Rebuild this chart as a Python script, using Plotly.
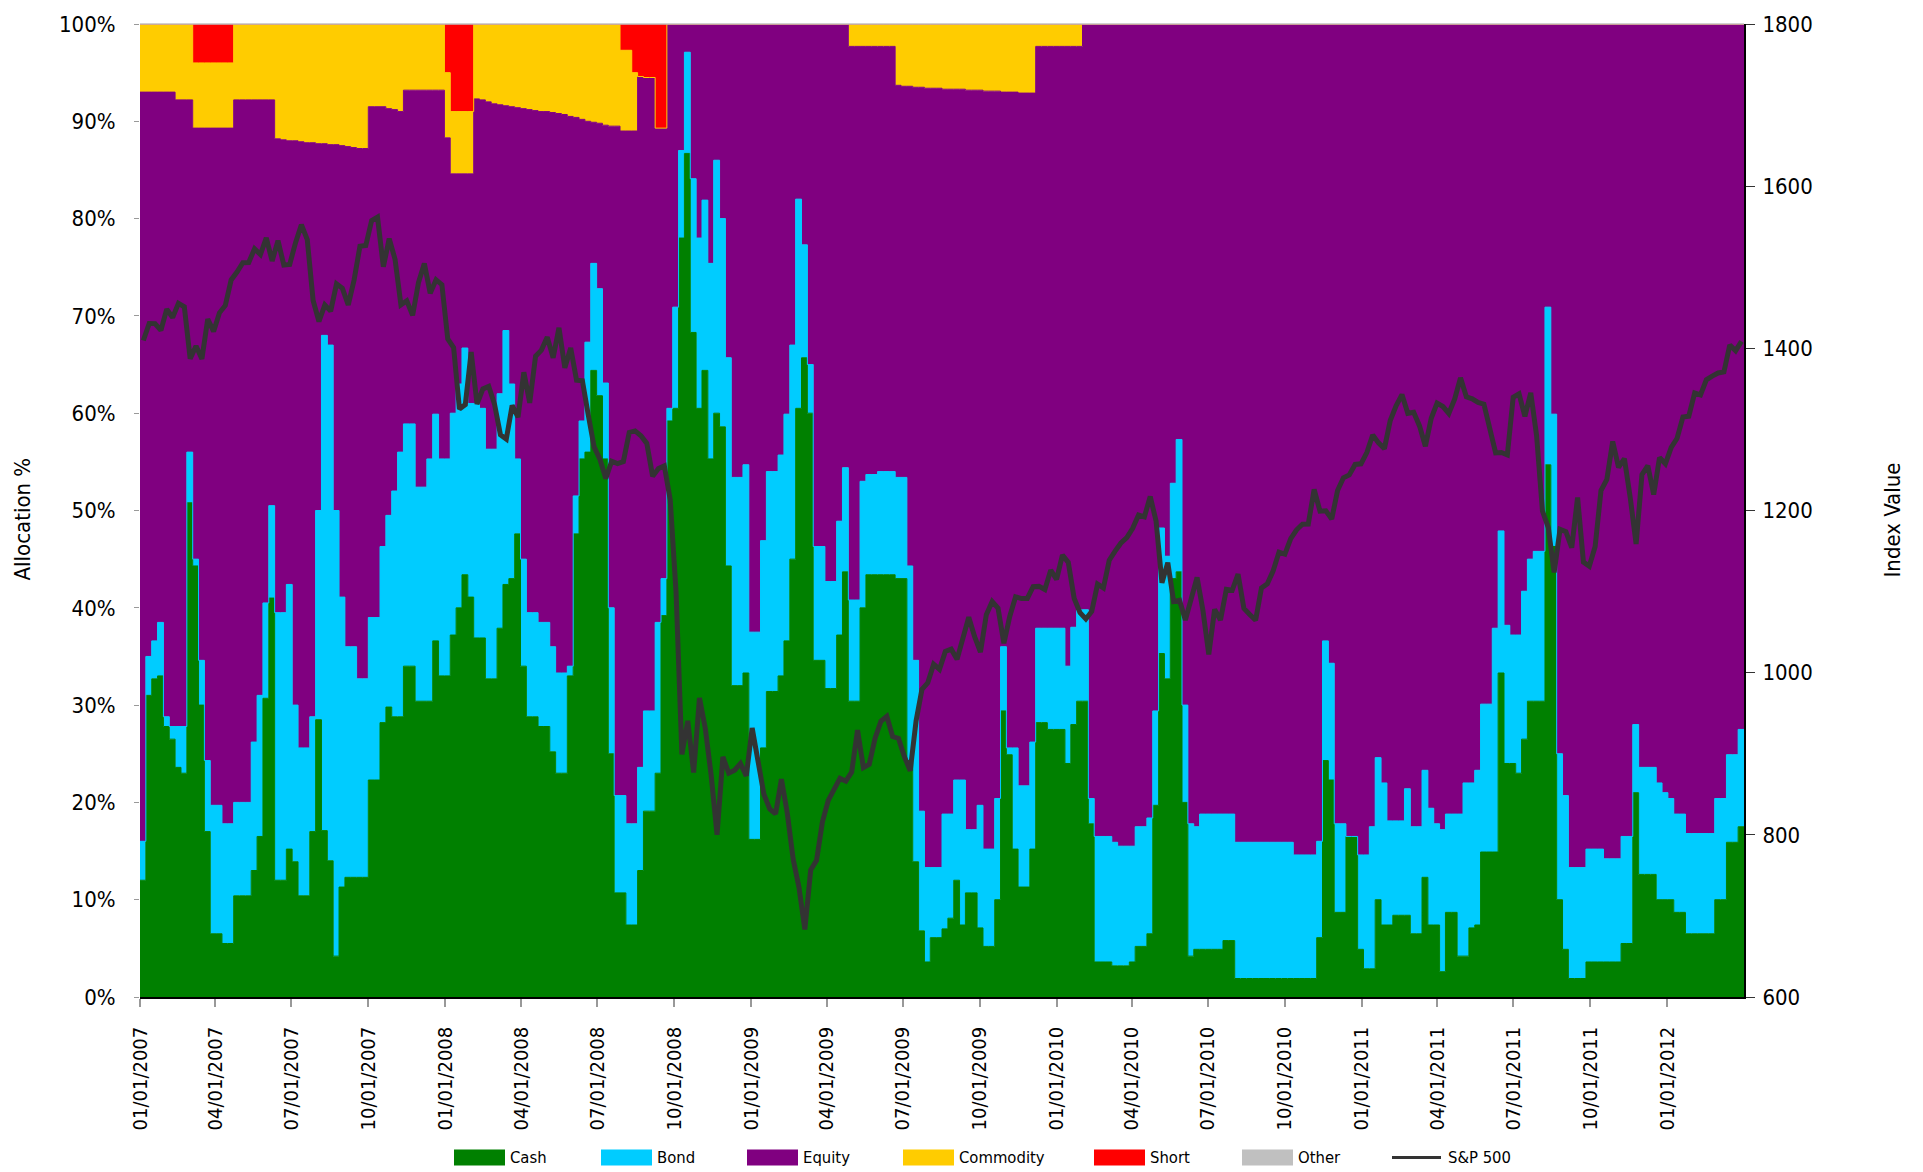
import numpy as np
import pandas as pd
import plotly.graph_objects as go

# ---------------- data (weekly allocation %) ----------------
cash = [
    12, 31, 32.7, 33, 27.8, 26.5, 23.6, 23, 50.8, 44.3,
    30, 17, 6.5, 6.5, 5.5, 5.5, 10.4, 10.4, 10.4, 13,
    16.5, 30.7, 41, 12, 12, 15.2, 13.9, 10.4, 10.4, 17,
    28.5, 17.1, 14, 4.2, 11.3, 12.3, 12.3, 12.3, 12.3, 22.3,
    22.3, 28.2, 29.8, 28.8, 28.8, 34, 34, 30.4, 30.4, 30.4,
    36.6, 33, 33, 37.2, 40, 43.4, 41.1, 36.9, 36.9, 32.7,
    32.7, 37.9, 42.4, 43, 47.6, 34, 28.8, 28.8, 27.8, 27.8,
    25.2, 23, 23, 33, 47.6, 55.3, 56, 64.4, 61.8, 55.3,
    25, 10.7, 10.7, 7.4, 7.4, 13, 19.1, 19.1, 23, 39.2,
    59.2, 60.5, 78, 86.7, 68.3, 60.5, 64.4, 55.3, 60, 58.6,
    44.3, 32, 32, 33.3, 16.2, 16.2, 25.6, 31.4, 31.4, 33,
    36.6, 45, 60.5, 65.7, 60, 34.6, 34.6, 31.7, 31.7, 37.2,
    43.7, 30.4, 30.4, 40, 43.4, 43.4, 43.4, 43.4, 43.4, 43,
    43, 24.3, 13.9, 6.8, 3.6, 6.1, 6.1, 7, 8.1, 12,
    7.4, 10.7, 10.7, 7.1, 5.2, 5.2, 10, 29.4, 24.9, 15.2,
    11.3, 11.3, 15.2, 28.2, 28.2, 27.5, 27.5, 27.5, 24, 28,
    30.4, 30.4, 17.8, 3.6, 3.6, 3.6, 3.2, 3.2, 3.2, 3.6,
    5.2, 5.2, 6.5, 19.7, 35.3, 32.7, 43, 43.7, 20, 4.2,
    4.9, 4.9, 4.9, 4.9, 4.9, 5.8, 5.8, 1.9, 1.9, 1.9,
    1.9, 1.9, 1.9, 1.9, 1.9, 1.9, 1.9, 1.9, 1.9, 1.9,
    1.9, 6.1, 24.3, 22.3, 8.7, 8.7, 16.5, 16.5, 4.9, 2.9,
    2.9, 10, 7.4, 7.4, 8.4, 8.4, 8.4, 6.5, 6.5, 12.3,
    7.4, 7.4, 2.6, 8.7, 8.7, 4.2, 4.2, 7.1, 7.4, 14.9,
    14.9, 14.9, 33.3, 24, 24, 23, 26.5, 30.4, 30.4, 30.4,
    54.7, 46.3, 10, 4.9, 1.9, 1.9, 1.9, 3.6, 3.6, 3.6,
    3.6, 3.6, 3.6, 5.5, 5.5, 21, 12.6, 12.6, 12.6, 10,
    10, 10, 8.7, 8.7, 6.5, 6.5, 6.5, 6.5, 6.5, 10,
    10, 15.9, 15.9, 17.5, 17.5,
]

bond = [
    4, 4, 3.9, 5.5, 1, 1.3, 4.2, 4.8, 5.2, 0.7,
    4.6, 7.3, 13.2, 13.2, 12.3, 12.3, 9.6, 9.6, 9.6, 13.2,
    14.5, 9.8, 9.5, 27.5, 27.5, 27.2, 16.1, 15.2, 15.2, 11.8,
    21.5, 50.9, 53, 45.8, 29.8, 23.7, 23.7, 20.4, 20.4, 16.7,
    16.7, 18.1, 19.7, 23.2, 27.2, 24.9, 24.9, 22, 22, 24.9,
    23.3, 22.3, 22.3, 22.8, 23, 23.3, 19.9, 24.1, 23.6, 23.6,
    23.6, 24.1, 26.1, 20, 7.7, 11, 10.7, 10.7, 10.7, 10.7,
    10.8, 10.3, 10.3, 1, 3.9, 3.9, 11.3, 11, 11, 7.8,
    15, 10, 10, 10.4, 10.4, 10.6, 10.3, 10.3, 15.5, 3.8,
    1.3, 10.4, 9, 10.4, 15.8, 17.5, 17.5, 20.1, 26, 21.4,
    21.4, 21.4, 21.4, 21.4, 21.3, 21.3, 21.3, 22.6, 22.6, 22.7,
    23.3, 22, 21.5, 11.6, 5, 11.7, 11.7, 11, 11, 11.7,
    10.7, 10.4, 10.4, 13, 10.3, 10.3, 10.6, 10.6, 10.6, 10.4,
    10.4, 20, 20.7, 12.3, 9.7, 7.2, 7.2, 11.8, 10.7, 10.3,
    14.9, 6.5, 6.5, 12.6, 10, 10, 10.4, 6.6, 0.7, 10.4,
    10.4, 10.4, 11, 9.7, 9.7, 10.4, 10.4, 10.4, 10, 10,
    9.4, 9.4, 2.6, 12.9, 12.9, 12.9, 12.7, 12.3, 12.3, 11.9,
    12.3, 12.3, 11.9, 9.7, 12.9, 12.6, 9.8, 13.6, 10, 13.6,
    12.6, 13.9, 13.9, 13.9, 13.9, 13, 13, 14, 14, 14,
    14, 14, 14, 14, 14, 14, 14, 12.7, 12.7, 12.7,
    12.7, 9.9, 12.3, 12, 9.1, 9.1, 0, 0, 9.7, 11.7,
    14.6, 14.6, 14.6, 10.7, 9.7, 9.7, 13, 11, 11, 11,
    12, 10.4, 14.6, 10.1, 10.1, 14.6, 17.8, 14.9, 15.9, 15.2,
    15.2, 23, 14.6, 14.2, 13.2, 14.2, 15.2, 14.6, 15.4, 15.4,
    16.2, 13.6, 15, 15.8, 11.4, 11.4, 11.4, 11.6, 11.6, 11.6,
    10.6, 10.6, 10.6, 11, 11, 7, 11, 11, 11, 12,
    11, 10.4, 10.1, 10.1, 10.3, 10.3, 10.3, 10.3, 10.3, 10.4,
    10.4, 9, 9, 10, 10,
]

equity = [
    77, 58, 56.4, 54.5, 64.2, 65.2, 64.4, 64.4, 36.2, 44.3,
    54.7, 65, 69.6, 69.6, 71.5, 71.5, 72.2, 72.2, 72.2, 66,
    61.2, 51.7, 41.7, 48.7, 48.6, 45.6, 58, 62.3, 62.2, 59,
    37.7, 19.7, 20.6, 37.6, 46.4, 51.4, 51.3, 54.5, 54.5, 52.5,
    52.5, 45.2, 41.8, 39.2, 35, 34.3, 34.3, 40.8, 40.8, 37.9,
    33.3, 37.9, 33, 24.6, 21.6, 17.9, 23.6, 31.3, 31.7, 35.7,
    35.5, 29.7, 23.1, 28.5, 36.1, 46.3, 51.7, 51.6, 52.5, 52.5,
    54.9, 57.5, 57.4, 56.5, 38.9, 31, 22.7, 14.5, 17, 26.5,
    49.5, 68.8, 68.3, 71.2, 71.2, 71, 65.1, 65.1, 50.8, 46.3,
    39.5, 29.1, 13, 2.9, 15.9, 22, 18.1, 24.6, 14, 20,
    34.3, 46.6, 46.6, 45.3, 62.5, 62.5, 53.1, 46, 46, 44.3,
    40.1, 33, 18, 22.7, 35, 53.7, 53.7, 57.3, 57.3, 51.1,
    45.6, 56.9, 56.9, 44.7, 44, 44, 43.7, 43.7, 43.7, 40.3,
    40.2, 49.3, 58.9, 74.4, 80.1, 80.1, 80.1, 74.5, 74.5, 71,
    71, 76, 76, 73.5, 77.9, 77.9, 72.7, 57, 67.4, 67.4,
    71.2, 71.2, 66.7, 59.8, 59.8, 59.8, 59.8, 59.8, 63.7, 59.7,
    57.9, 60.2, 79.6, 83.5, 83.5, 83.5, 84.1, 84.5, 84.5, 84.5,
    82.5, 82.5, 81.6, 70.6, 51.8, 54.7, 47.2, 42.7, 70, 82.2,
    82.5, 81.2, 81.2, 81.2, 81.2, 81.2, 81.2, 84.1, 84.1, 84.1,
    84.1, 84.1, 84.1, 84.1, 84.1, 84.1, 84.1, 85.4, 85.4, 85.4,
    85.4, 84, 63.4, 65.7, 82.2, 82.2, 83.5, 83.5, 85.4, 85.4,
    82.5, 75.4, 78, 81.9, 81.9, 81.9, 78.6, 82.5, 82.5, 76.7,
    80.6, 82.2, 82.8, 81.2, 81.2, 81.2, 78, 78, 76.7, 69.9,
    69.9, 62.1, 52.1, 61.8, 62.8, 62.8, 58.3, 55, 54.2, 54.2,
    29.1, 40.1, 75, 79.3, 86.7, 86.7, 86.7, 84.8, 84.8, 84.8,
    85.8, 85.8, 85.8, 83.5, 83.5, 72, 76.4, 76.4, 76.4, 78,
    79, 79.6, 81.2, 81.2, 83.2, 83.2, 83.2, 83.2, 83.2, 79.6,
    79.6, 75.1, 75.1, 72.5, 72.5,
]

commodity = (
    [7, 7, 7, 7, 7, 7, 7.8, 7.8, 7.8, 6.7,
     6.7, 6.7, 6.7, 6.7, 6.7, 6.7, 7.8, 7.8, 7.8, 7.8,
     7.8, 7.8, 7.8, 11.8, 11.9, 12, 12, 12.1, 12.2, 12.2,
     12.3, 12.3, 12.4, 12.4, 12.5, 12.6, 12.7, 12.8, 12.8, 8.5,
     8.5, 8.5, 8.7, 8.8, 9, 6.8, 6.8, 6.8, 6.8, 6.8,
     6.8, 6.8, 6.7, 6.4, 6.4, 6.4, 6.4, 7.7, 7.8, 8,
     8.2, 8.3, 8.4, 8.5, 8.6, 8.7, 8.8, 8.9, 9, 9,
     9.1, 9.2, 9.3, 9.5, 9.6, 9.8, 10, 10.1, 10.2, 10.4,
     10.5, 10.5, 8.3, 8.3, 6, 0, 0, 0, 0, 0]
    + [0] * 31
    + [2.3] * 8
    + [6.3, 6.4, 6.4, 6.5, 6.5, 6.6, 6.6, 6.6, 6.7, 6.7,
       6.7, 6.7, 6.8, 6.8, 6.8, 6.9, 6.9, 6.9, 7, 7,
       7, 7.1, 7.1, 7.1]
    + [2.3] * 8
    + [0] * 114
)

short = (
    [0] * 9 + [4] * 7 + [0] * 36 + [5] + [9] * 4 + [0] * 25
    + [2.7, 2.7, 5, 5.4, 5.5, 5.5, 10.7, 10.7]
    + [0] * 185
)

other = [0] * 275

# S&P 500 index, weekly (Fridays)
sp500 = [
    # 2007
    1409.7, 1430.7, 1430.5, 1422.2, 1448.4, 1438.1, 1455.5, 1451.2, 1387.2, 1402.8,
    1387.0, 1436.1, 1420.9, 1443.8, 1452.9, 1484.4, 1494.1, 1505.6, 1505.9, 1522.8,
    1515.7, 1536.3, 1507.7, 1532.9, 1502.6, 1503.4, 1530.4, 1552.5, 1534.1, 1459.0,
    1433.1, 1453.6, 1445.9, 1479.4, 1474.0, 1453.6, 1484.3, 1525.8, 1526.8, 1557.6,
    1561.8, 1500.6, 1535.3, 1509.7, 1453.7, 1458.7, 1440.7, 1481.1, 1504.7, 1468.0,
    1484.5, 1478.5,
    # 2008
    1411.6, 1401.0, 1325.2, 1330.6, 1395.4, 1331.3, 1350.0, 1353.1, 1330.6, 1293.4,
    1288.1, 1329.5, 1315.2, 1370.4, 1332.8, 1390.3, 1397.8, 1413.9, 1388.3, 1425.4,
    1375.9, 1400.4, 1360.7, 1360.0, 1317.9, 1278.4, 1262.9, 1239.5, 1260.7, 1257.8,
    1260.3, 1296.3, 1298.2, 1292.2, 1282.8, 1242.3, 1251.7, 1255.1, 1213.3, 1099.2,
    899.2, 940.6, 876.8, 968.8, 931.0, 873.3, 800.0, 896.2, 876.1, 879.7,
    887.9, 872.8,
    # 2009
    931.8, 890.4, 850.1, 832.0, 825.9, 868.6, 826.8, 770.1, 735.1, 683.4,
    756.6, 768.5, 815.9, 842.5, 856.6, 869.6, 866.2, 877.5, 929.2, 882.9,
    887.0, 919.1, 940.1, 946.2, 921.2, 918.9, 896.4, 879.1, 940.4, 979.3,
    987.5, 1010.5, 1004.1, 1026.1, 1028.9, 1016.4, 1042.7, 1068.3, 1044.4, 1025.2,
    1071.5, 1087.7, 1079.6, 1036.2, 1069.3, 1093.5, 1091.4, 1091.5, 1106.0, 1106.4,
    1102.5, 1126.5, 1115.1,
    # 2010
    1145.0, 1136.0, 1091.8, 1073.9, 1066.2, 1075.5, 1109.2, 1104.5, 1138.7, 1150.0,
    1159.9, 1166.6, 1178.1, 1194.4, 1192.1, 1217.3, 1186.7, 1110.9, 1135.7, 1087.7,
    1089.4, 1064.9, 1091.6, 1117.5, 1076.8, 1022.6, 1078.0, 1064.9, 1102.7, 1101.6,
    1121.6, 1079.3, 1071.7, 1064.6, 1104.5, 1109.6, 1125.6, 1148.7, 1146.2, 1165.2,
    1176.2, 1183.1, 1183.3, 1225.9, 1199.2, 1199.7, 1189.4, 1224.7, 1240.4, 1243.9,
    1256.8, 1257.6,
    # 2011
    1271.5, 1293.2, 1283.4, 1276.3, 1310.9, 1329.2, 1343.0, 1319.9, 1321.2, 1304.3,
    1279.2, 1313.8, 1332.4, 1328.2, 1319.7, 1337.4, 1363.6, 1340.2, 1337.8, 1333.3,
    1331.1, 1300.2, 1271.0, 1271.5, 1268.5, 1339.7, 1343.8, 1316.1, 1345.0, 1292.3,
    1199.4, 1178.8, 1123.5, 1176.8, 1174.0, 1154.2, 1216.0, 1136.4, 1131.4, 1155.5,
    1224.6, 1238.3, 1285.1, 1253.2, 1263.9, 1215.7, 1158.7, 1244.3, 1255.2, 1219.7,
    1265.3, 1257.6,
    # 2012
    1277.8, 1289.1, 1315.4, 1316.3, 1344.9, 1342.6, 1361.2, 1365.7, 1369.6, 1370.9,
    1404.2, 1397.1, 1408.5,
]

series_names = ["Cash", "Bond", "Equity", "Commodity", "Short", "Other"]
series_colors = ["#008000", "#00CCFF", "#800080", "#FFCC00", "#FF0000", "#C0C0C0"]
sp_name = "S&P 500"
sp_color = "#333333"

y_ticks = list(range(0, 101, 10))
y_ticktext = [f"{v}%" for v in y_ticks]
y2_ticks = list(range(600, 1801, 200))
x_ticks = pd.date_range("2007-01-01", "2012-01-01", freq="QS")

# ---------------- build ----------------
series = [cash, bond, equity, commodity, short, other]
lens = [len(s) for s in series]
assert len(set(lens)) == 1, lens

weeks = pd.date_range("2007-01-01", periods=len(cash), freq="7D")
sp_dates = pd.date_range("2007-01-05", periods=len(sp500), freq="7D")

FONT = "Liberation Sans Narrow, Arial Narrow, DejaVu Sans Condensed, sans-serif"

fig = go.Figure()
cum = np.zeros(len(cash))
for i, (name, vals, col) in enumerate(zip(series_names, series, series_colors)):
    cum = cum + np.array(vals, dtype=float)
    fig.add_trace(go.Scatter(
        x=weeks, y=cum.copy(), name=name, mode="lines",
        line=dict(color=col, width=1 if name != "Other" else 0, shape="hv"),
        fill="tozeroy" if i == 0 else "tonexty",
        fillcolor=col, showlegend=False, hoverinfo="skip",
    ))

fig.add_trace(go.Scatter(
    x=sp_dates, y=sp500, name=sp_name, yaxis="y2", mode="lines",
    line=dict(color=sp_color, width=5), showlegend=False,
))

W, H = 1923, 1172
L, R, T, B = 140, 179, 21, 175
PW, PH = W - L - R, H - T - B


def px(x):
    return (x - L) / PW


def py(y):
    return (H - B - y) / PH


shapes = [dict(type="line", xref="paper", yref="paper", x0=0, x1=1, y0=1, y1=1,
               line=dict(color="#C0C0C0", width=1.5), layer="above")]
annotations = [
    dict(text="Allocation %", xref="paper", yref="paper", x=px(22), y=py(518),
         xanchor="center", yanchor="middle",
         textangle=-90, showarrow=False, font=dict(family=FONT, size=22, color="black")),
    dict(text="Index Value", xref="paper", yref="paper", x=px(1892), y=py(518),
         xanchor="center", yanchor="middle",
         textangle=-90, showarrow=False, font=dict(family=FONT, size=22, color="black")),
]

# legend (manual, matching the original Excel-style legend)
legend_x = [454, 601, 747, 903, 1094, 1242]
for name, col, x0 in zip(series_names, series_colors, legend_x):
    shapes.append(dict(type="rect", xref="paper", yref="paper",
                       x0=px(x0), x1=px(x0 + 51), y0=py(1166), y1=py(1150),
                       fillcolor=col, line=dict(width=0)))
    annotations.append(dict(text=name, xref="paper", yref="paper", x=px(x0 + 54), y=py(1158),
                            xanchor="left", yanchor="middle", showarrow=False,
                            font=dict(family=FONT, size=16.5, color="black")))
shapes.append(dict(type="line", xref="paper", yref="paper", x0=px(1392), x1=px(1441),
                   y0=py(1158), y1=py(1158), line=dict(color=sp_color, width=3)))
annotations.append(dict(text=sp_name, xref="paper", yref="paper", x=px(1446), y=py(1158),
                        xanchor="left", yanchor="middle", showarrow=False,
                        font=dict(family=FONT, size=16.5, color="black")))

fig.update_layout(
    width=W, height=H,
    margin=dict(l=L, r=R, t=T, b=B, pad=0),
    paper_bgcolor="white", plot_bgcolor="white",
    font=dict(family=FONT, color="black"),
    showlegend=False,
    xaxis=dict(
        type="date", range=[weeks[0], weeks[-1]],
        tickvals=x_ticks, tickformat="%m/%d/%Y", tickangle=-90,
        ticks="outside", ticklen=8, tickwidth=1.5, tickcolor="#999999",
        showline=True, linecolor="black", linewidth=1.5,
        showgrid=False, zeroline=False,
        tickfont=dict(family=FONT, size=20, color="black"),
        ticklabelstandoff=12,
    ),
    yaxis=dict(
        range=[0, 100], tickvals=y_ticks, ticktext=y_ticktext,
        ticks="outside", ticklen=5, tickcolor="#999999",
        showline=False, showgrid=False, zeroline=False,
        tickfont=dict(family=FONT, size=22, color="black"),
        ticklabelstandoff=14,
    ),
    yaxis2=dict(
        overlaying="y", side="right", range=[600, 1800], tickvals=y2_ticks,
        ticks="outside", ticklen=9, tickcolor="#333333",
        showline=True, linecolor="black", linewidth=2,
        showgrid=False, zeroline=False,
        tickfont=dict(family=FONT, size=22, color="black"),
        ticklabelstandoff=3,
    ),
    shapes=shapes,
    annotations=annotations,
)

fig.write_html("out.html", config={"displayModeBar": False},
               post_script="document.body.style.margin='0';document.body.style.overflow='hidden';")
